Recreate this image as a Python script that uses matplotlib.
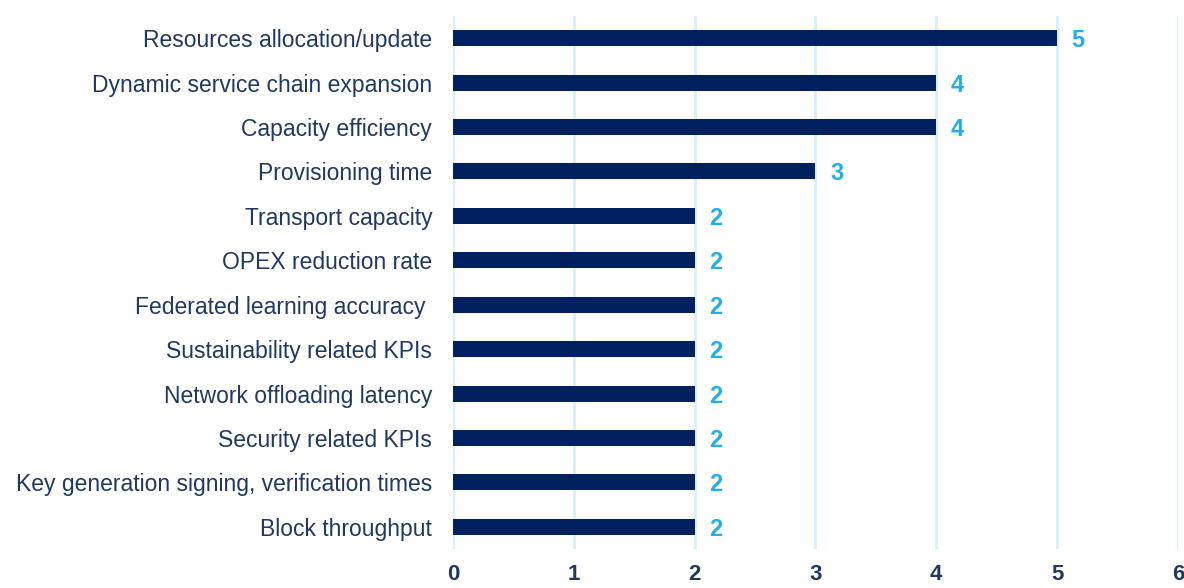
import matplotlib
matplotlib.use("Agg")
import matplotlib.pyplot as plt

categories = [
    "Resources allocation/update",
    "Dynamic service chain expansion",
    "Capacity efficiency",
    "Provisioning time",
    "Transport capacity",
    "OPEX reduction rate",
    "Federated learning accuracy ",
    "Sustainability related KPIs",
    "Network offloading latency",
    "Security related KPIs",
    "Key generation signing, verification times",
    "Block throughput",
]
values = [5, 4, 4, 3, 2, 2, 2, 2, 2, 2, 2, 2]
xticks = [0, 1, 2, 3, 4, 5, 6]

plt.rcParams['font.family'] = ['Liberation Sans', 'DejaVu Sans']

fig = plt.figure(figsize=(11.84, 5.88), dpi=100)
ax = fig.add_axes([0.3826, 0.0663, 0.6123, 0.9065])

navy = "#002060"
label_col = "#1f3864"
val_col = "#22aee8"

y = list(range(len(categories)))
ax.barh(y, values, height=0.36, color=navy, zorder=3)
for yi, v in zip(y, values):
    ax.text(v + 0.12, yi, str(v), va="center_baseline", ha="left", color=val_col,
            fontsize=17, fontweight="bold")

ax.set_xlim(0, 6)
ax.set_ylim(len(categories) - 0.5, -0.5)
ax.set_yticks(y)
ax.set_yticklabels(categories, fontsize=16.5, color=label_col)
for t in ax.get_yticklabels():
    t.set_verticalalignment("center_baseline")
ax.set_xticks(xticks)
ax.set_xticklabels([str(t) for t in xticks], fontsize=16, fontweight="bold", color=label_col)
ax.tick_params(axis="y", length=0, pad=15)
ax.tick_params(axis="x", length=0, pad=11)
for s in ax.spines.values():
    s.set_visible(False)
ax.grid(axis="x", color="#d4f1fb", linewidth=2, zorder=0)
ax.set_axisbelow(True)

fig.savefig("out.png", dpi=100)
